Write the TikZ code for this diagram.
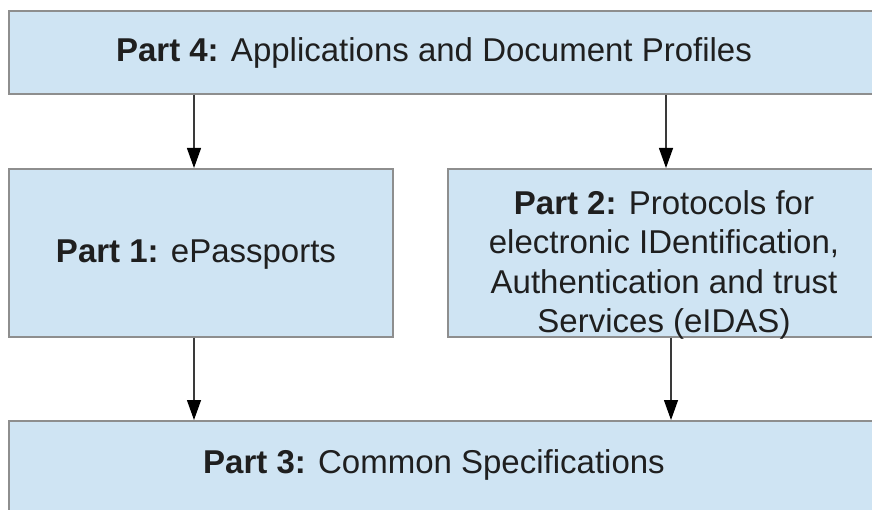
\documentclass[tikz,border=0pt]{standalone}
\usepackage{fontspec}
\setmainfont{Liberation Sans}
\usetikzlibrary{arrows.meta}
\definecolor{boxfill}{HTML}{CFE4F3}
\definecolor{boxline}{HTML}{8E8E8E}
\definecolor{arrowline}{HTML}{3A3A3A}
\tikzset{
  partbox/.style={draw=boxline, fill=boxfill, line width=1.6pt, inner sep=0pt, anchor=north west},
  parttext/.style={font=\fontsize{33}{39.5}\selectfont, text=black!88, align=center, inner sep=0pt},
  flow/.style={draw=arrowline, line width=1.3pt, -{Triangle[length=20pt,width=14pt,color=black]}},
}
\begin{document}
\begin{tikzpicture}[x=1pt,y=-1pt]
\useasboundingbox (0,0) rectangle (872,510);
\clip (0,0) rectangle (872,510);

% the four parts
\node[partbox, minimum width=882pt, minimum height=83pt]  (p4) at (8,10)   {};
\node[partbox, minimum width=384pt, minimum height=168pt] (p1) at (8,168)  {};
\node[partbox, minimum width=440pt, minimum height=168pt] (p2) at (447,168) {};
\node[partbox, minimum width=882pt, minimum height=100pt] (p3) at (8,420)  {};

% their titles
\node[parttext, anchor=base] (t4) at (434,62)  {\textbf{Part 4:} Applications and Document Profiles};
\node[parttext, anchor=base] (t1) at (196,263) {\textbf{Part 1:} ePassports};
\node[parttext] (t2) at (664,265) {\textbf{Part 2:} Protocols for\\electronic IDentification,\\Authentication and trust\\Services (eIDAS)};
\node[parttext, anchor=base] (t3) at (434,473) {\textbf{Part 3:} Common Specifications};

% dependency arrows
\coordinate (ua) at (194,0);
\coordinate (ub) at (666,0);
\coordinate (la) at (194,0);
\coordinate (lb) at (671,0);
\draw[flow] (ua |- p4.south) -- (ua |- p1.north);
\draw[flow] (ub |- p4.south) -- (ub |- p2.north);
\draw[flow] (la |- p1.south) -- (la |- p3.north);
\draw[flow] (lb |- p2.south) -- (lb |- p3.north);
\end{tikzpicture}
\end{document}
